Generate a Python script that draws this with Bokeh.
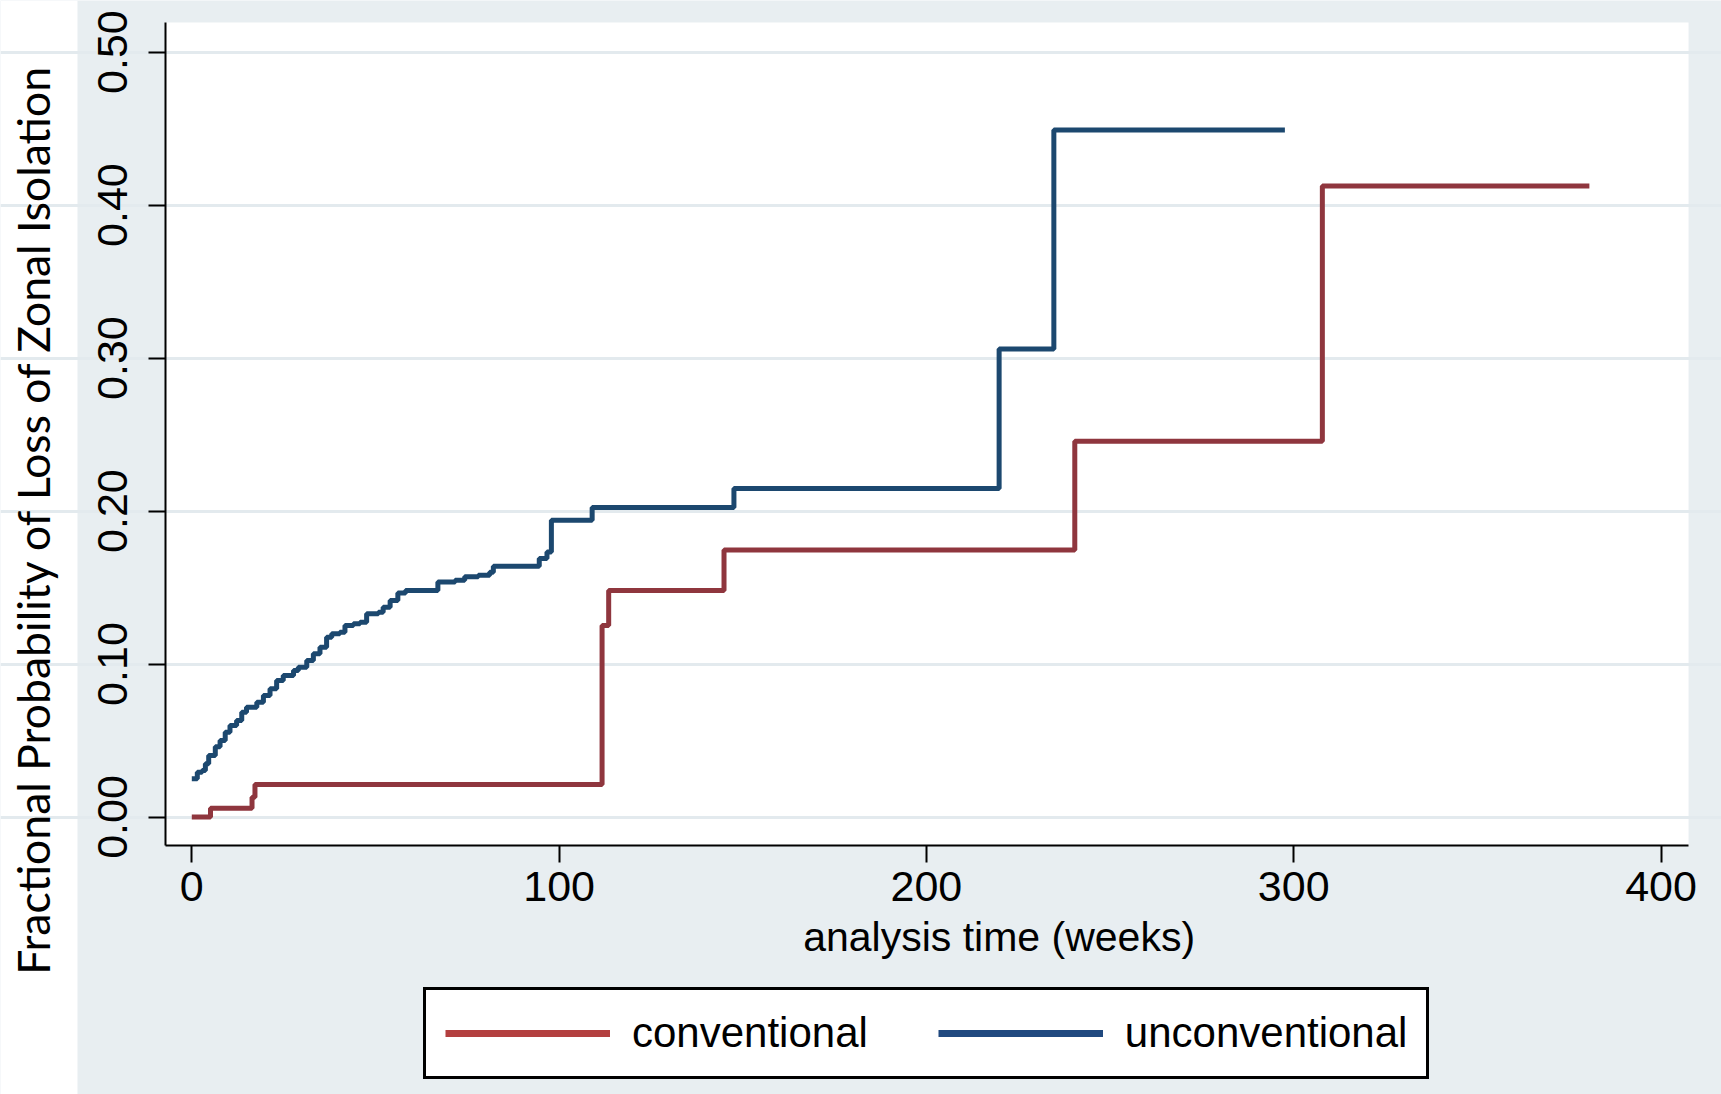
import math
import numpy as np
from bokeh.plotting import figure
from bokeh.models import (Range1d, FixedTicker, Legend, LegendItem, Label, Grid,
                          LinearAxis, BoxAnnotation, NumeralTickFormatter,
                          BasicTickFormatter)
from bokeh.embed import file_html
from bokeh.resources import INLINE

# ---- data ----
conv_time = [0, 5.1, 16.4, 17.2, 111.7, 113.5, 144.9, 240.4, 307.8, 380.5]
conv_prob = [0.0, 0.0057, 0.0129, 0.0212, 0.1252, 0.148, 0.1746, 0.2457, 0.4124, 0.4124]

unconv_time = [0, 1.5, 2.8, 3.7, 4.6, 6.4, 7.7, 9.1, 10.4, 12.2,
               13.6, 14.9, 17.7, 19.5, 21.3, 23.1, 24.9, 27.7, 29.0, 31.3,
               33.1, 34.9, 36.7, 38.1, 40.3, 41.7, 44.0, 45.8, 47.6, 50.8,
               52.1, 54.0, 56.1, 58.2, 67.0, 71.7, 74.3, 78.0, 81.1, 82.1,
               94.6, 96.7, 97.9, 109.0, 147.6, 219.8, 234.7, 297.6]
unconv_prob = [0.025, 0.0293, 0.0304, 0.0348, 0.0402, 0.0459, 0.05, 0.0554, 0.0598, 0.0631,
               0.0685, 0.0718, 0.075, 0.0794, 0.0838, 0.0892, 0.0925, 0.0958, 0.0979, 0.1023,
               0.1067, 0.111, 0.1175, 0.1198, 0.1208, 0.1252, 0.1263, 0.1273, 0.1328, 0.1339,
               0.1371, 0.1415, 0.1465, 0.148, 0.1537, 0.1548, 0.157, 0.158, 0.160, 0.164,
               0.169, 0.1733, 0.194, 0.2023, 0.2148, 0.306, 0.449, 0.449]

x_ticks = [0, 100, 200, 300, 400]
y_ticks = [0.0, 0.1, 0.2, 0.3, 0.4, 0.5]
series_names = ["conventional", "unconventional"]
x_title = "analysis time (weeks)"
y_title = "Fractional Probability of Loss of Zonal Isolation"

RED = "#8f363e"
BLUE = "#1c486f"
RED_KEY = "#b33f3f"
BLUE_KEY = "#20497f"
BG = "#e8eef1"

# plot-region limits (data units) and the full canvas extent in data units
X_LO, X_HI = -7.27, 407.5
Y_LO, Y_HI = -0.0186, 0.5193
CX0, CX1 = -52.08, 416.47
CY0, CY1 = -0.18138, 0.53373

p = figure(width=1721, height=1094, output_backend="svg", toolbar_location=None,
           title=None, x_range=Range1d(CX0, CX1), y_range=Range1d(CY0, CY1),
           x_axis_location=None, y_axis_location=None,
           min_border_left=0, min_border_right=0, min_border_top=0, min_border_bottom=0)
p.background_fill_color = BG
p.border_fill_color = BG
p.outline_line_color = None
# hide any default grids
for r in list(p.center):
    if isinstance(r, Grid):
        r.visible = False

# white strip at the far left and white plot region
p.add_layout(BoxAnnotation(left=CX0, right=-31.12, bottom=CY0, top=CY1,
                           fill_color="white", fill_alpha=1.0, line_color=None, level="image"))
p.add_layout(BoxAnnotation(left=X_LO, right=X_HI, bottom=Y_LO, top=Y_HI,
                           fill_color="white", fill_alpha=1.0, line_color=None, level="image"))

ygrid = Grid(dimension=1, ticker=FixedTicker(ticks=y_ticks), bounds=(X_LO, X_HI),
             grid_line_color="#e3eaee", grid_line_width=3, level="underlay")
p.add_layout(ygrid)

r1 = p.step(conv_time, conv_prob, mode="after", line_color=RED, line_width=5)
r2 = p.step(unconv_time, unconv_prob, mode="after", line_color=BLUE, line_width=5)
# legend keys (a single undefined point, so only the legend key is drawn)
k1 = p.line(x=[np.nan], y=[np.nan], line_color=RED_KEY, line_width=7)
k2 = p.line(x=[np.nan], y=[np.nan], line_color=BLUE_KEY, line_width=7)

xaxis = LinearAxis(fixed_location=Y_LO, bounds=(X_LO, X_HI),
                   ticker=FixedTicker(ticks=x_ticks), formatter=BasicTickFormatter())
yaxis = LinearAxis(fixed_location=X_LO, bounds=(Y_LO, Y_HI),
                   ticker=FixedTicker(ticks=y_ticks), formatter=NumeralTickFormatter(format="0.00"))
for ax in (xaxis, yaxis):
    ax.axis_line_color = "black"
    ax.axis_line_width = 2
    ax.major_tick_line_color = "black"
    ax.major_tick_line_width = 2
    ax.major_tick_out = 17
    ax.major_tick_in = 0
    ax.minor_tick_line_color = None
    ax.major_label_text_font = "Liberation Sans"
    ax.major_label_text_font_size = "43px"
    ax.major_label_text_color = "black"
xaxis.major_label_standoff = 10
yaxis.major_label_orientation = "vertical"
yaxis.major_label_standoff = 21
p.add_layout(xaxis, "below")
p.add_layout(yaxis, "left")

# axis titles
p.add_layout(Label(x=219.8, y=-0.0783, text=x_title, text_align="center",
                   text_baseline="middle", text_font="Liberation Sans",
                   text_font_size="41px", text_color="black"))
p.add_layout(Label(x=-43.4, y=0.1945, text=y_title, angle=math.pi / 2,
                   text_align="center", text_baseline="middle", text_font="Lato",
                   text_font_size="44.5px", text_color="black"))

legend = Legend(items=[LegendItem(label=series_names[0], renderers=[k1]),
                       LegendItem(label=series_names[1], renderers=[k2])],
                orientation="horizontal", location=(423, 15))
legend.label_text_font = "Liberation Sans"
legend.label_text_font_size = "42px"
legend.label_text_color = "black"
legend.glyph_width = 165
legend.glyph_height = 20
legend.label_standoff = 22
legend.spacing = 70
legend.padding = 19
legend.margin = 0
legend.border_line_color = "black"
legend.border_line_alpha = 1.0
legend.border_line_width = 3
legend.background_fill_color = "white"
legend.background_fill_alpha = 1.0
p.add_layout(legend, "center")

open("out.html", "w").write(file_html(p, INLINE))
